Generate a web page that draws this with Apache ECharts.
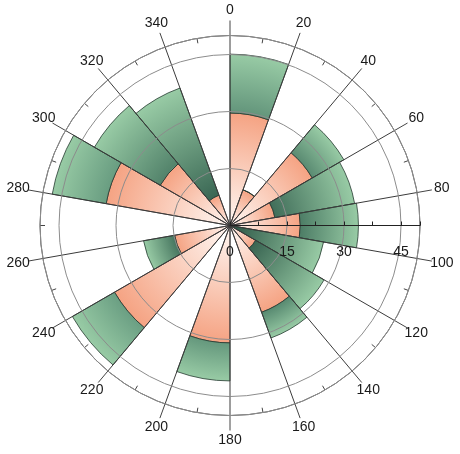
<!DOCTYPE html>
<html>
<head>
<meta charset="utf-8">
<title>Polar stacked bars</title>
<script src="https://cdn.jsdelivr.net/npm/echarts@6/dist/echarts.min.js"></script>
<style>
    html, body { margin: 0; padding: 0; background: #fff; }
    #container { width: 460px; height: 454px; }
</style>
</head>
<body>
<div id="container"></div>
<script>
"use strict";

// sector start angles (20 degree sectors, clockwise from north)
var sectors = ['0', '20', '40', '60', '80', '100', '120', '140', '160',
    '180', '200', '220', '240', '260', '280', '300', '320', '340'];
// inner (orange) series
var innerValues = [29.6, 10, 25, 12, 18.5, 0, 7.8, 24.3, 0, 30.9, 0, 35.1, 14.8, 0, 33.1, 21.2, 8.5, 0];
// outer (green) series, stacked on the inner one
var outerValues = [15.5, 0, 9.6, 21.3, 15.3, 25, 20.8, 7.2, 0, 10, 0, 12.8, 8.3, 0, 14.4, 20, 30, 0];
// angle tick labels
var angleLabels = [0, 20, 40, 60, 80, 100, 120, 140, 160, 180, 200, 220, 240, 260, 280, 300, 320, 340];
// radius axis
var radiusMax = 50;
var radiusStep = 15;

var CX = 230, CY = 225.5, R = 190;
var LABEL_R = 56.6; // angle labels sit just outside the rim, centred on their spoke

function hex(c) {
    return [parseInt(c.substr(1, 2), 16), parseInt(c.substr(3, 2), 16), parseInt(c.substr(5, 2), 16)];
}
function mix(a, b, t) {
    var x = hex(a), y = hex(b);
    t = Math.max(0, Math.min(1, t));
    return 'rgb(' + [0, 1, 2].map(function (k) {
        return Math.round(x[k] + (y[k] - x[k]) * t);
    }).join(',') + ')';
}
// gradient laid out around the pole, so it runs along the radius of each bar
function radial(outer, stops) {
    return {
        type: 'radial', x: CX, y: CY, global: true,
        r: Math.max(1, outer / radiusMax * R),
        colorStops: stops
    };
}

var innerData = innerValues.map(function (v) {
    return {
        value: v,
        itemStyle: { color: radial(v, [{ offset: 0, color: '#fff8f4' }, { offset: 1, color: '#f5a383' }]) }
    };
});
var outerData = outerValues.map(function (v, i) {
    var base = innerValues[i], top = base + v;
    var dark = mix('#2a5444', '#6b9f83', base / 34);
    var f = top > 0 ? base / top : 0;
    return {
        value: v,
        itemStyle: {
            color: radial(top, [{ offset: 0, color: dark }, { offset: f, color: dark }, { offset: 1, color: '#98cba5' }])
        }
    };
});

var font = { fontFamily: '"Liberation Sans", Arial, sans-serif', fontSize: 14, color: '#1a1a1a' };

var chart = echarts.init(document.getElementById('container'));
chart.setOption({
    animation: false,
    polar: [
        { center: [CX, CY], radius: R },
        { center: [CX, CY], radius: R },
        { center: [CX, CY], radius: R }
    ],
    angleAxis: [
        {
            polarIndex: 0, type: 'category', data: sectors,
            startAngle: 90, clockwise: true, boundaryGap: true,
            axisLine: { show: false }, axisTick: { show: false },
            axisLabel: { show: false }, splitLine: { show: false }
        },
        {
            polarIndex: 1, type: 'value', min: 0, max: 360, interval: 20,
            startAngle: 90, clockwise: true, z: 4,
            axisLine: { lineStyle: { color: '#555', width: 1 } },
            axisTick: { show: true, length: 15, lineStyle: { color: '#444', width: 1 } },
            axisLabel: { show: false },
            splitLine: { show: true, lineStyle: { color: '#3a3a3a', width: 1 } }
        },
        {
            polarIndex: 2, type: 'value', min: 0, max: 360, interval: 20,
            startAngle: 0, clockwise: true, z: 4,
            axisLine: { show: false },
            axisTick: { show: true, inside: true, length: 5, lineStyle: { color: '#444', width: 1 } },
            axisLabel: { show: false }, splitLine: { show: false }
        }
    ],
    radiusAxis: [
        {
            polarIndex: 0, type: 'value', min: 0, max: radiusMax, interval: radiusStep, z: 5,
            axisLine: { show: false }, axisTick: { show: false }, axisLabel: { show: false },
            splitLine: { show: true, lineStyle: { color: '#8c8c8c', width: 1 } }
        },
        {
            polarIndex: 1, type: 'value', min: 0, max: radiusMax, show: false
        },
        {
            polarIndex: 2, type: 'value', min: 0, max: radiusMax, interval: radiusStep / 2, z: 6,
            axisLine: { lineStyle: { color: '#222', width: 1 } },
            axisTick: { show: true, length: 4, lineStyle: { color: '#222' } },
            axisLabel: Object.assign({
                margin: -27,
                verticalAlign: 'middle',
                formatter: function (v) { return v % radiusStep === 0 && v < radiusMax ? String(v) : ''; }
            }, font),
            splitLine: { show: false }
        }
    ],
    series: [
        {
            name: 'inner', type: 'bar', coordinateSystem: 'polar', polarIndex: 0,
            stack: 'rose', barCategoryGap: '0%', z: 2,
            itemStyle: { borderColor: '#3a3030', borderWidth: 0.8 },
            data: innerData
        },
        {
            name: 'outer', type: 'bar', coordinateSystem: 'polar', polarIndex: 0,
            stack: 'rose', barCategoryGap: '0%', z: 2,
            itemStyle: { borderColor: '#243a30', borderWidth: 0.8 },
            data: outerData
        },
        {
            // angle tick labels, centred on each spoke just outside the rim
            name: 'angleLabels', type: 'scatter', coordinateSystem: 'polar', polarIndex: 1,
            silent: true, clip: false, symbolSize: 0.1, z: 6,
            itemStyle: { color: '#ffffff', opacity: 1 },
            label: Object.assign({
                show: true, position: 'inside', textBorderWidth: 0, opacity: 1,
                formatter: function (p) { return String(p.value[1]); }
            }, font),
            labelLayout: { hideOverlap: false },
            data: angleLabels.map(function (a) { return [LABEL_R, a]; })
        }
    ]
});
</script>
</body>
</html>
